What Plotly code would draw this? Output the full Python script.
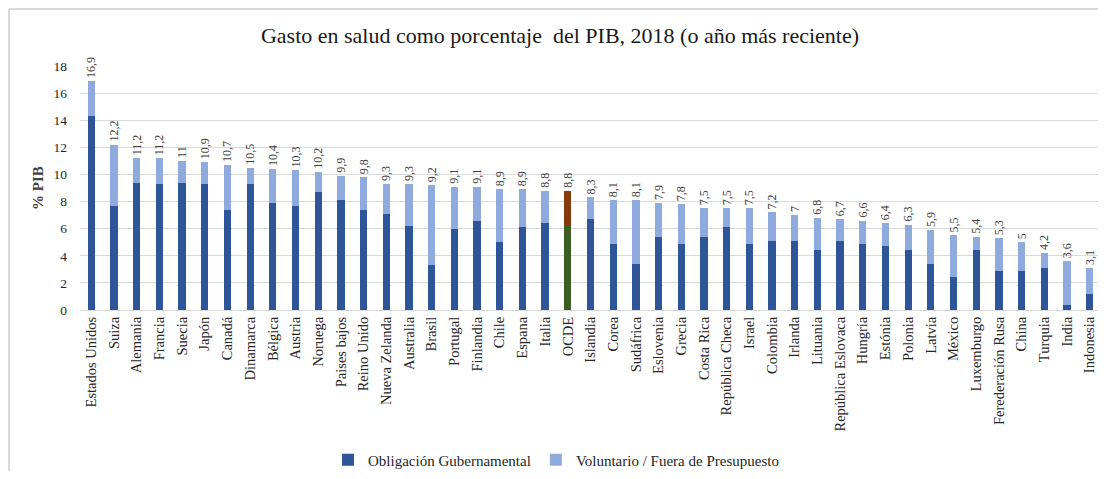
import plotly.graph_objects as go

countries = ["Estados Unidos", "Suiza", "Alemania", "Francia", "Suecia", "Japón", "Canadá",
             "Dinamarca", "Bélgica", "Austria", "Noruega", "Paises bajos", "Reino Unido",
             "Nueva Zelanda", "Australia", "Brasil", "Portugal", "Finlandia", "Chile", "Espana",
             "Italia", "OCDE", "Islandia", "Corea", "Sudáfrica", "Eslovenia", "Grecia",
             "Costa Rica", "República Checa", "Israel", "Colombia", "Irlanda", "Lituania",
             "República Eslovaca", "Hungría", "Estónia", "Polonia", "Latvia", "México",
             "Luxemburgo", "Ferederación Rusa", "China", "Turquia", "India", "Indonesia"]

totals = [16.9, 12.2, 11.2, 11.2, 11.0, 10.9, 10.7, 10.5, 10.4, 10.3, 10.2, 9.9, 9.8,
          9.3, 9.3, 9.2, 9.1, 9.1, 8.9, 8.9, 8.8, 8.8, 8.3, 8.1, 8.1, 7.9, 7.8,
          7.5, 7.5, 7.5, 7.2, 7.0, 6.8, 6.7, 6.6, 6.4, 6.3, 5.9, 5.5,
          5.4, 5.3, 5.0, 4.2, 3.6, 3.1]

gov = [14.3, 7.7, 9.4, 9.3, 9.4, 9.3, 7.4, 9.3, 7.9, 7.7, 8.7, 8.1, 7.4,
       7.1, 6.2, 3.3, 6.0, 6.6, 5.0, 6.1, 6.4, 6.2, 6.7, 4.9, 3.4, 5.4, 4.9,
       5.4, 6.1, 4.9, 5.1, 5.1, 4.4, 5.1, 4.9, 4.7, 4.4, 3.4, 2.4,
       4.4, 2.9, 2.9, 3.1, 0.4, 1.2]

vol = [round(t - g, 2) for t, g in zip(totals, gov)]
labels = [f"{t:g}".replace(".", ",") for t in totals]

DARK = "#2E5597"
LIGHT = "#8FAADC"
gov_colors = ["#3B5E22" if c == "OCDE" else DARK for c in countries]
vol_colors = ["#843C0C" if c == "OCDE" else LIGHT for c in countries]

FONT = "Liberation Serif"

# figure geometry (page has an 8px body margin)
W, H = 1098, 463
L, R, T, B = 72, 5, 58, 161
PW = W - L - R
PH = H - T - B

fig = go.Figure()
fig.add_trace(go.Bar(x=countries, y=gov, name="Obligación Gubernamental",
                     marker=dict(color=gov_colors, line_width=0)))
fig.add_trace(go.Bar(x=countries, y=vol, name="Voluntario / Fuera de Presupuesto",
                     marker=dict(color=vol_colors, line_width=0),
                     text=labels, textposition="outside", textangle=-90,
                     constraintext="none", cliponaxis=False,
                     textfont=dict(family=FONT, size=12, color="#404040")))

fig.update_layout(
    barmode="stack",
    bargap=0.68,
    width=W, height=H,
    margin=dict(l=L, r=R, t=T, b=B, autoexpand=False),
    paper_bgcolor="white", plot_bgcolor="white",
    font=dict(family=FONT, color="#262626"),
    title=dict(text="Gasto en salud como porcentaje  del PIB, 2018 (o año más reciente)",
               x=552 / W, xanchor="center", y=1 - 27 / H, yanchor="middle",
               font=dict(family=FONT, size=22, color="#1a1a1a")),
    legend=dict(orientation="h", xref="container", yref="container",
                x=320 / W, xanchor="left", y=1 - 452 / H, yanchor="middle",
                font=dict(family=FONT, size=15, color="#262626"), traceorder="normal"),
    showlegend=True,
    xaxis=dict(tickangle=-90, tickfont=dict(family=FONT, size=14.5, color="#262626"),
               showline=True, linecolor="#D9D9D9", linewidth=1, ticks="",
               showgrid=False, automargin=False),
    yaxis=dict(range=[0, 18], dtick=2, showgrid=True, gridcolor="#D9D9D9", gridwidth=1,
               zeroline=False, ticks="", tickfont=dict(family=FONT, size=13.5, color="#262626"),
               ticklabelstandoff=12, automargin=False,
               title=dict(text="<b>% PIB</b>", standoff=6,
                          font=dict(family=FONT, size=15, color="#404040"))),
    shapes=[
        dict(type="line", xref="paper", yref="paper",
             x0=(1 - L) / PW, x1=(W - L) / PW, y0=(T + PH - 1) / PH, y1=(T + PH - 1) / PH,
             line=dict(color="#D9D9D9", width=2)),
        dict(type="line", xref="paper", yref="paper",
             x0=(1 - L) / PW, x1=(1 - L) / PW, y0=(T + PH - 1) / PH, y1=(T + PH - H) / PH,
             line=dict(color="#D9D9D9", width=2)),
    ],
)

fig.write_html("out.html")
